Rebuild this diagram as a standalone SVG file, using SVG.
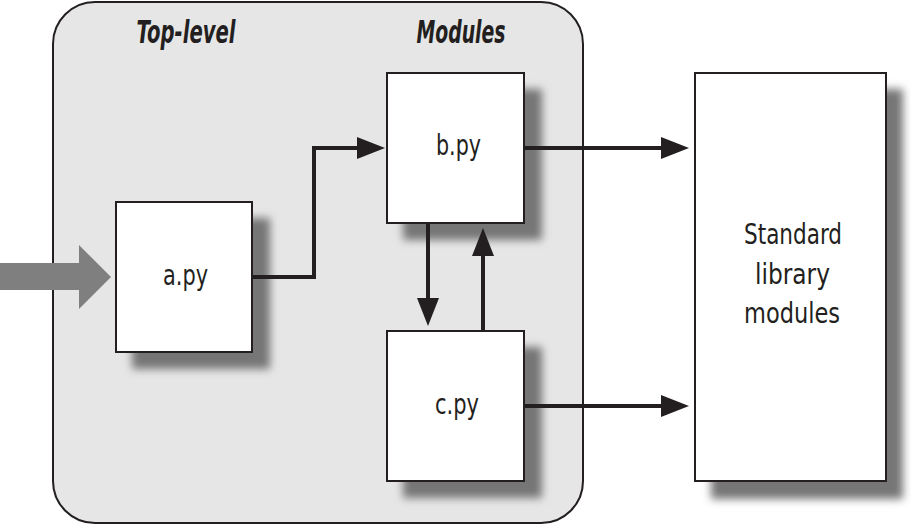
<svg xmlns="http://www.w3.org/2000/svg" width="911" height="527" viewBox="0 0 911 527">
  <style>
    .box { fill: #ffffff; stroke: #231f20; stroke-width: 2; }
    .shadow { fill: #767676; filter: url(#blur); }
    .lbl { font-family: "DejaVu Sans Condensed", "Liberation Sans", sans-serif; font-size: 28px; fill: #231f20; text-anchor: middle; }
    .title { font-family: "DejaVu Sans Condensed", "Liberation Sans", sans-serif; font-size: 32px; font-weight: bold; font-style: italic; fill: #231f20; text-anchor: middle; }
    .conn { fill: none; stroke: #231f20; stroke-width: 4; marker-end: url(#head); }
  </style>
  <defs>
    <filter id="blur" x="-20%" y="-20%" width="140%" height="140%">
      <feGaussianBlur stdDeviation="4"/>
    </filter>
    <marker id="head" markerUnits="userSpaceOnUse" markerWidth="28" markerHeight="22" refX="8" refY="11" orient="auto" viewBox="0 0 28 22">
      <path d="M0,0 L28,11 L0,22 z" fill="#231f20"/>
    </marker>
  </defs>

  <g id="container">
    <rect x="53" y="2" width="530" height="521" rx="42" ry="42" fill="#e6e6e6" stroke="#231f20" stroke-width="2"/>
    <text class="title" x="186" y="43" textLength="99" lengthAdjust="spacingAndGlyphs">Top-level</text>
    <text class="title" x="461" y="43" textLength="89" lengthAdjust="spacingAndGlyphs">Modules</text>
  </g>

  <g id="a_py">
    <rect class="shadow" x="132" y="218" width="138" height="151"/>
    <rect class="box" x="116" y="202" width="136" height="150"/>
    <text class="lbl" x="185.5" y="285" textLength="45" lengthAdjust="spacingAndGlyphs">a.py</text>
  </g>

  <g id="b_py">
    <rect class="shadow" x="403" y="89" width="139" height="151"/>
    <rect class="box" x="387" y="73" width="137" height="150"/>
    <text class="lbl" x="458.5" y="155" textLength="45" lengthAdjust="spacingAndGlyphs">b.py</text>
  </g>

  <g id="c_py">
    <rect class="shadow" x="403" y="347" width="139" height="151"/>
    <rect class="box" x="387" y="331" width="137" height="150"/>
    <text class="lbl" x="457" y="414" textLength="44" lengthAdjust="spacingAndGlyphs">c.py</text>
  </g>

  <g id="stdlib">
    <rect class="shadow" x="711" y="89" width="192" height="410"/>
    <rect class="box" x="695" y="73" width="191" height="408"/>
    <text class="lbl" x="793" y="244" textLength="98" lengthAdjust="spacingAndGlyphs">Standard</text>
    <text class="lbl" x="792.5" y="284" textLength="75" lengthAdjust="spacingAndGlyphs">library</text>
    <text class="lbl" x="792" y="323" textLength="96" lengthAdjust="spacingAndGlyphs">modules</text>
  </g>

  <g id="entry">
    <polygon points="0,263 79,263 79,245 111,277 79,309 79,290 0,290" fill="#7f7f7f"/>
  </g>

  <g id="connectors">
    <polyline class="conn" points="252,277 314,277 314,148 365,148"/>
    <line class="conn" x1="524" y1="148" x2="669" y2="148"/>
    <line class="conn" x1="524" y1="406" x2="669" y2="406"/>
    <line class="conn" x1="428" y1="223" x2="428" y2="306"/>
    <line class="conn" x1="483" y1="331" x2="483" y2="248"/>
  </g>
</svg>
